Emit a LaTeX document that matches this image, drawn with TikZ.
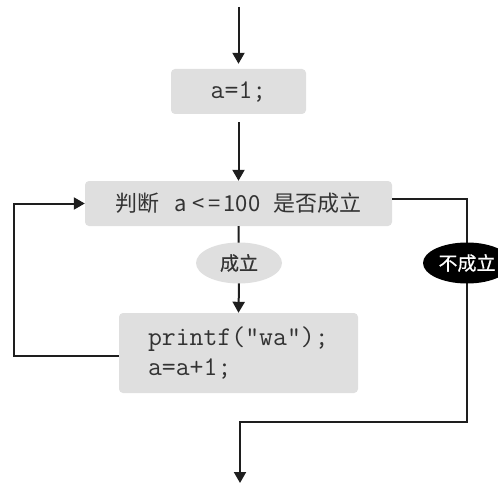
\documentclass[tikz,border=0pt]{standalone}
\usepackage{fontspec}
\newfontfamily\cjk{Noto Sans CJK SC}
\newfontfamily\cjkheavy[FakeBold=0.6]{Noto Sans CJK SC}
\usetikzlibrary{arrows.meta,shapes.geometric}
\definecolor{boxgray}{HTML}{DFDFDF}
\definecolor{ink}{HTML}{333333}
\definecolor{wire}{HTML}{1E1E1E}
\begin{document}
\begin{tikzpicture}[x=1pt,y=-1pt,
  stepbox/.style={rectangle, rounded corners=4pt, fill=boxgray, inner sep=0pt, text=ink},
  label/.style={ellipse, inner sep=0pt, minimum height=41pt, font=\cjkheavy\fontsize{19}{19}\selectfont},
  wireline/.style={draw=wire, line width=2pt},
  flow/.style={wireline, -{Triangle[width=12pt,length=11pt]}},
  code/.style={font=\ttfamily\fontsize{27}{30}\selectfont}]
\useasboundingbox (0,0) rectangle (498,484);

% process and decision boxes
\node[stepbox, code, minimum width=135pt, minimum height=45pt] (init) at (238.5,91.5) {a=1;};
\node[stepbox, minimum width=307pt, minimum height=45pt,
      font=\cjk\fontsize{22}{24}\selectfont] (cond) at (238.5,203.5)
      {判断\hspace{0.7em}a\hspace{5pt}<\hspace{4pt}=\hspace{3pt}100\hspace{0.6em}是否成立};
\node[stepbox, code, minimum width=239pt, minimum height=80pt,
      text width=181pt, align=left] (body) at (238.5,353)
      {printf("wa");\\a=a+1;};

% free ends of the flow
\coordinate (src) at (238.5,7);
\coordinate (rb) at (467,422);
\coordinate (lb) at (240,422);
\coordinate (exit) at (240,483);
\coordinate (yesout) at (239,283);

% connectors
\draw[flow, shorten >=5pt] (src) -- (init.north);
\draw[flow, shorten <=8pt] (init.south) -- (cond.north);
\draw[wireline] (cond.south) -- (yesout);
\draw[flow] (yesout) -- (body.north);
\draw[flow] ([yshift=-3pt]body.west) -- ++(-105,0) |- (cond.west);
\draw[flow] ([yshift=4.5pt]cond.east) -| (rb) -- (lb) -- (exit);

% branch labels
\node[label, fill=boxgray, text=ink, minimum width=86pt] (yes) at (239,263) {成立};
\node[label, fill=black, text=white, minimum width=88pt] (no) at (467,263) {不成立};
\end{tikzpicture}
\end{document}
